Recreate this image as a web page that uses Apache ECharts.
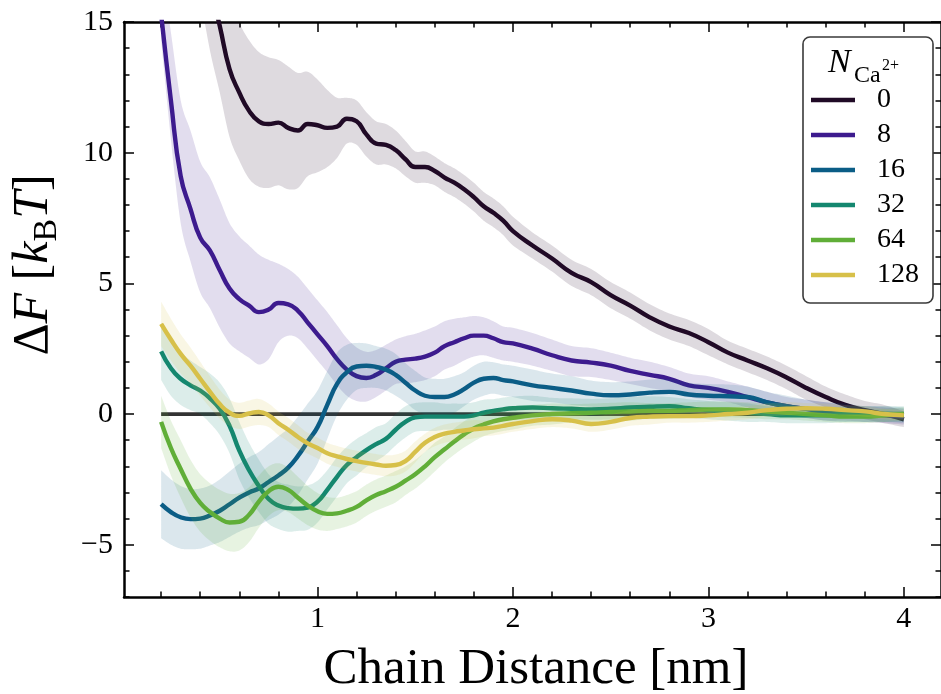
<!DOCTYPE html>
<html><head><meta charset="utf-8">
<script src="https://cdn.jsdelivr.net/npm/echarts@6/dist/echarts.min.js"></script>
<style>html,body{margin:0;padding:0;background:#fff}#c{width:941px;height:694px}</style>
</head><body><div id="c"></div>
<script>
// ---------------- data ----------------
const distance = [0.2,0.25,0.3,0.35,0.4,0.45,0.5,0.55,0.6,0.65,0.7,0.75,0.8,0.85,0.9,0.95,1.0,1.05,1.1,1.15,1.2,1.25,1.3,1.35,1.4,1.45,1.5,1.55,1.6,1.65,1.7,1.75,1.8,1.85,1.9,1.95,2.0,
  2.1,2.2,2.3,2.4,2.5,2.6,2.7,2.8,2.9,3.0,3.1,3.2,3.3,3.4,3.5,3.6,3.7,3.8,3.9,4.0];

const seriesNames = ['0','8','16','32','64','128'];
const seriesColors = ['#200a26','#3d1b8e','#0b5d86','#14876f','#60ae38','#d7c049'];

const mean0 = [32,27.5,23.5,20.8,18.5,16.4,14.85,13.2,12.3,11.6,11.2,11.1,11.15,10.95,10.85,11.1,11.05,10.95,11.0,11.3,11.2,10.7,10.35,10.3,10.1,9.75,9.45,9.45,9.3,9.05,8.85,8.6,8.3,7.95,7.7,7.4,7.0,
  6.45,5.95,5.4,5.05,4.55,4.15,3.7,3.35,3.1,2.75,2.35,2.05,1.75,1.4,1.0,0.65,0.35,0.15,0.0,-0.2];
const errLo0 = [2.5,2.5,2.5,2.5,2.5,2.5,2.55,2.6,2.6,2.6,2.5,2.45,2.4,2.35,2.2,2.0,1.8,1.5,1.2,0.95,0.9,0.85,0.8,0.75,0.7,0.65,0.6,0.6,0.55,0.55,0.55,0.55,0.55,0.55,0.55,0.55,0.55,
  0.5,0.5,0.5,0.5,0.5,0.5,0.5,0.5,0.5,0.5,0.45,0.45,0.45,0.45,0.45,0.4,0.4,0.35,0.35,0.3];
const errHi0 = [2.5,2.5,2.5,2.5,2.5,2.5,2.55,2.6,2.65,2.7,2.65,2.55,2.4,2.35,2.2,2.0,1.75,1.45,1.1,0.8,0.8,0.85,0.85,0.8,0.75,0.7,0.6,0.6,0.55,0.55,0.55,0.55,0.55,0.55,0.55,0.55,0.55,
  0.5,0.5,0.5,0.5,0.5,0.5,0.5,0.5,0.5,0.5,0.45,0.45,0.45,0.45,0.45,0.4,0.4,0.35,0.35,0.3];

const mean8 = [15.3,12.0,9.1,7.85,6.75,6.25,5.5,4.8,4.4,4.15,3.9,4.0,4.25,4.2,3.95,3.5,3.05,2.6,2.1,1.7,1.45,1.38,1.5,1.75,2.0,2.08,2.12,2.2,2.35,2.6,2.75,2.9,3.0,3.0,2.9,2.75,2.7,
  2.5,2.25,2.05,1.97,1.85,1.65,1.5,1.35,1.1,1.0,0.85,0.65,0.45,0.3,0.2,0.1,0.05,0.0,-0.05,-0.1];
const errLo8 = [1.0,1.5,1.8,2.0,2.1,2.2,2.2,2.1,2.0,2.0,2.0,1.9,1.5,1.2,1.05,1.0,1.0,1.0,1.0,1.0,0.95,0.9,0.85,0.85,0.85,0.9,0.9,0.9,0.9,0.9,0.9,0.85,0.8,0.75,0.75,0.7,0.7,
  0.65,0.6,0.6,0.55,0.55,0.5,0.5,0.5,0.45,0.45,0.4,0.4,0.4,0.35,0.35,0.35,0.3,0.3,0.3,0.3];
const errHi8 = [2.0,2.6,2.9,3.0,2.9,2.8,2.7,2.5,2.4,2.3,2.2,1.9,1.5,1.35,1.3,1.3,1.3,1.3,1.3,1.2,1.1,1.0,0.95,0.9,0.85,0.9,0.95,1.0,1.0,0.95,0.9,0.8,0.75,0.7,0.65,0.6,0.6,
  0.6,0.6,0.55,0.55,0.5,0.5,0.5,0.45,0.45,0.45,0.4,0.4,0.4,0.35,0.35,0.35,0.3,0.3,0.3,0.3];

const mean16 = [-3.45,-3.75,-3.95,-4.02,-4.0,-3.88,-3.7,-3.45,-3.2,-3.0,-2.85,-2.6,-2.35,-2.05,-1.6,-1.05,-0.5,0.35,1.15,1.6,1.82,1.85,1.8,1.7,1.5,1.2,0.9,0.7,0.65,0.65,0.75,0.95,1.2,1.35,1.38,1.3,1.25,
  1.1,1.0,0.9,0.78,0.72,0.75,0.82,0.85,0.75,0.7,0.68,0.65,0.45,0.3,0.2,0.1,0.05,0.0,0.0,-0.05];
const err16 = [1.3,1.25,1.2,1.15,1.15,1.15,1.2,1.25,1.3,1.35,1.4,1.45,1.5,1.5,1.5,1.45,1.4,1.3,1.2,1.05,0.9,0.85,0.8,0.8,0.8,0.75,0.75,0.7,0.7,0.7,0.7,0.65,0.65,0.65,0.6,0.6,0.6,
  0.6,0.55,0.55,0.5,0.5,0.5,0.5,0.5,0.45,0.45,0.45,0.4,0.4,0.4,0.35,0.35,0.35,0.3,0.3,0.3];

const mean32 = [2.4,1.75,1.35,1.1,0.9,0.6,0.2,-0.45,-1.4,-2.15,-2.75,-3.25,-3.5,-3.6,-3.62,-3.58,-3.35,-2.9,-2.4,-1.95,-1.65,-1.38,-1.15,-0.95,-0.6,-0.3,-0.13,-0.1,-0.1,-0.1,-0.1,-0.1,-0.05,0.05,0.12,0.18,0.22,
  0.25,0.22,0.2,0.18,0.2,0.25,0.28,0.3,0.22,0.15,0.1,0.05,0.0,-0.05,-0.05,-0.05,0.0,0.0,0.0,0.0];
const err32 = [1.1,1.05,1.0,0.95,0.9,0.95,1.0,1.05,1.1,1.05,1.0,0.95,0.9,0.9,0.85,0.85,0.8,0.75,0.75,0.7,0.7,0.65,0.65,0.6,0.6,0.6,0.55,0.55,0.55,0.5,0.5,0.5,0.5,0.5,0.45,0.45,0.45,
  0.45,0.4,0.4,0.4,0.4,0.4,0.4,0.35,0.35,0.35,0.35,0.35,0.3,0.3,0.3,0.3,0.3,0.3,0.3,0.3];

const mean64 = [-0.3,-1.3,-2.1,-2.85,-3.4,-3.75,-4.0,-4.15,-4.12,-3.85,-3.35,-2.95,-2.78,-2.9,-3.2,-3.5,-3.72,-3.82,-3.8,-3.7,-3.55,-3.3,-3.1,-2.95,-2.78,-2.55,-2.3,-2.0,-1.65,-1.35,-1.05,-0.78,-0.55,-0.4,-0.28,-0.2,-0.14,
  -0.05,0.0,0.03,0.05,0.08,0.1,0.12,0.12,0.15,0.18,0.18,0.15,0.1,0.05,0.0,-0.05,-0.1,-0.1,-0.05,0.0];
const err64 = [1.0,1.05,1.1,1.1,1.1,1.1,1.1,1.1,1.1,1.05,1.0,0.95,0.9,0.85,0.8,0.75,0.7,0.65,0.6,0.6,0.6,0.6,0.6,0.6,0.6,0.55,0.55,0.55,0.55,0.5,0.5,0.5,0.5,0.45,0.45,0.45,0.45,
  0.4,0.4,0.35,0.35,0.35,0.35,0.3,0.3,0.3,0.3,0.3,0.3,0.3,0.25,0.25,0.25,0.25,0.25,0.25,0.25];

const mean128 = [3.45,2.85,2.3,1.85,1.35,0.85,0.38,0.05,-0.07,0.02,0.08,-0.05,-0.35,-0.6,-0.88,-1.12,-1.3,-1.5,-1.62,-1.72,-1.8,-1.87,-1.93,-1.98,-1.95,-1.8,-1.45,-1.1,-0.88,-0.75,-0.68,-0.63,-0.58,-0.55,-0.52,-0.45,-0.38,
  -0.27,-0.2,-0.25,-0.38,-0.3,-0.15,-0.1,-0.08,-0.08,-0.05,0.0,0.05,0.15,0.2,0.22,0.2,0.15,0.1,0.0,-0.05];
const err128 = [0.85,0.8,0.75,0.7,0.65,0.6,0.55,0.5,0.5,0.5,0.5,0.45,0.45,0.45,0.45,0.4,0.4,0.4,0.4,0.4,0.4,0.4,0.4,0.4,0.4,0.4,0.4,0.35,0.35,0.35,0.35,0.35,0.35,0.3,0.3,0.3,0.3,
  0.3,0.3,0.3,0.3,0.3,0.3,0.3,0.25,0.25,0.25,0.25,0.25,0.25,0.25,0.2,0.2,0.2,0.2,0.2,0.2];

const xTickValues = [1, 2, 3, 4];
const yTickValues = [-5, 0, 5, 10, 15];
const xRange = [0.01, 4.19];
const yRange = [-7, 15];

// ---------------- chart ----------------
const SERIF = '"Liberation Serif", "DejaVu Serif", serif';
const xMinor = []; for (let k = 1; k <= 20; k++) xMinor.push(+(k * 0.2).toFixed(1));
const yMinor = []; for (let v = yRange[0]; v <= yRange[1]; v++) yMinor.push(v);

const defs = [
  {mean: mean0, lo: errLo0, hi: errHi0},
  {mean: mean8, lo: errLo8, hi: errHi8},
  {mean: mean16, lo: err16, hi: err16},
  {mean: mean32, lo: err32, hi: err32},
  {mean: mean64, lo: err64, hi: err64},
  {mean: mean128, lo: err128, hi: err128}
];

const fmt = v => (v < 0 ? '\u2212' + Math.abs(v) : String(v));
function rgba(hex, a) {
  const n = parseInt(hex.slice(1), 16);
  return 'rgba(' + ((n >> 16) & 255) + ',' + ((n >> 8) & 255) + ',' + (n & 255) + ',' + a + ')';
}
// Catmull-Rom densification of pixel points (rendering only)
function smoothPts(p, n) {
  const out = [];
  for (let i = 0; i < p.length - 1; i++) {
    const p0 = p[Math.max(i - 1, 0)], p1 = p[i], p2 = p[i + 1], p3 = p[Math.min(i + 2, p.length - 1)];
    for (let t = 0; t < n; t++) {
      const s = t / n, s2 = s * s, s3 = s2 * s;
      const f = j => 0.5 * (2 * p1[j] + (-p0[j] + p2[j]) * s + (2 * p0[j] - 5 * p1[j] + 4 * p2[j] - p3[j]) * s2 + (-p0[j] + 3 * p1[j] - 3 * p2[j] + p3[j]) * s3);
      out.push([f(0), f(1)]);
    }
  }
  out.push(p[p.length - 1]);
  return out;
}

function xAx(pos, ticks, len, labels, line) {
  return {
    type: 'value', min: xRange[0], max: xRange[1], position: pos,
    splitLine: {show: false},
    axisLine: {show: line, onZero: false, lineStyle: {color: '#000', width: 2.5}},
    axisTick: {show: true, inside: true, length: len, customValues: ticks, lineStyle: {color: '#000', width: 1.5}},
    axisLabel: {show: labels, customValues: ticks, margin: 7, formatter: fmt,
      fontFamily: SERIF, fontSize: 30, color: '#000'}
  };
}
function yAx(pos, ticks, len, labels, line) {
  return {
    type: 'value', min: yRange[0], max: yRange[1], position: pos,
    splitLine: {show: false},
    axisLine: {show: line, onZero: false, lineStyle: {color: '#000', width: 2.5}},
    axisTick: {show: true, inside: true, length: len, customValues: ticks, lineStyle: {color: '#000', width: 1.5}},
    axisLabel: {show: labels, customValues: ticks, margin: 11, formatter: fmt,
      fontFamily: SERIF, fontSize: 30, color: '#000'}
  };
}

const series = [];
series.push({
  type: 'line', name: 'zero', silent: true, symbol: 'none', z: 9,
  data: [[distance[0], 0], [distance[distance.length - 1], 0]],
  lineStyle: {color: '#333333', width: 3.8}
});
defs.forEach((d, k) => {
  const col = seriesColors[k];
  const z = 10 + k;
  series.push({
    type: 'custom', silent: true, clip: true, z: z,
    data: [[1, 0]],
    renderItem: (params, api) => {
      const up = d.mean.map((m, i) => api.coord([distance[i], m + d.hi[i]]));
      const dn = d.mean.map((m, i) => api.coord([distance[i], m - d.lo[i]]));
      const pts = smoothPts(up, 8).concat(smoothPts(dn, 8).reverse());
      return {type: 'polygon', shape: {points: pts}, style: {fill: rgba(col, 0.15), stroke: null}};
    }
  });
  series.push({
    type: 'line', name: seriesNames[k], symbol: 'none', smooth: 0.5, z: z,
    data: d.mean.map((m, i) => [distance[i], m]),
    lineStyle: {color: col, width: 4.4}, itemStyle: {color: col}
  });
});

const chart = echarts.init(document.getElementById('c'), null, {renderer: 'canvas'});
chart.setOption({
  animation: false,
  backgroundColor: '#fff',
  grid: {left: 124, top: 22, width: 824, height: 575, containLabel: false},
  xAxis: [
    xAx('bottom', xTickValues, 10, true, true),
    xAx('top', xTickValues, 10, false, true),
    xAx('bottom', xMinor, 5.5, false, false),
    xAx('top', xMinor, 5.5, false, false)
  ],
  yAxis: [
    yAx('left', yTickValues, 10, true, true),
    yAx('right', yTickValues, 10, false, true),
    yAx('left', yMinor, 5.5, false, false),
    yAx('right', yMinor, 5.5, false, false)
  ],
  legend: {
    data: seriesNames, orient: 'vertical', left: 803, top: 37,
    padding: [49, 14, 14, 8], itemGap: 7, itemWidth: 44, itemHeight: 4.5, icon: 'rect',
    backgroundColor: '#fff', borderColor: '#3a3a3a', borderWidth: 1.6, borderRadius: 7,
    selectedMode: false,
    textStyle: {fontFamily: SERIF, fontSize: 28, lineHeight: 28, color: '#000', padding: [0, 0, 0, 17]}
  },
  graphic: [
    {type: 'text', x: 828, y: 63, z: 100, style: {text: 'N', fontFamily: SERIF, fontStyle: 'italic', fontSize: 34, fill: '#000', verticalAlign: 'middle'}},
    {type: 'text', x: 854, y: 76, z: 100, style: {text: 'Ca', fontFamily: SERIF, fontSize: 24, fill: '#000', verticalAlign: 'middle'}},
    {type: 'text', x: 882, y: 66, z: 100, style: {text: '2+', fontFamily: SERIF, fontSize: 16, fill: '#000', verticalAlign: 'middle'}},
    {type: 'text', x: 536, y: 670, z: 100, style: {text: 'Chain Distance [nm]', fontFamily: SERIF, fontSize: 51, fill: '#000', align: 'center', verticalAlign: 'middle'}},
    {type: 'text', x: 34, y: 265, rotation: Math.PI / 2, z: 100, style: {
      text: '{d|\u0394}{i|F} [{i|k}{s|B}{i|T}]', fontFamily: SERIF, fontSize: 50, lineHeight: 60, fill: '#000',
      align: 'center', verticalAlign: 'middle',
      rich: {
        d: {fontFamily: SERIF, fontSize: 50, lineHeight: 60},
        i: {fontFamily: SERIF, fontSize: 50, fontStyle: 'italic', lineHeight: 60},
        s: {fontFamily: SERIF, fontSize: 34, lineHeight: 30, verticalAlign: 'bottom'}
      }
    }}
  ],
  series: series
});
</script>
</body></html>
